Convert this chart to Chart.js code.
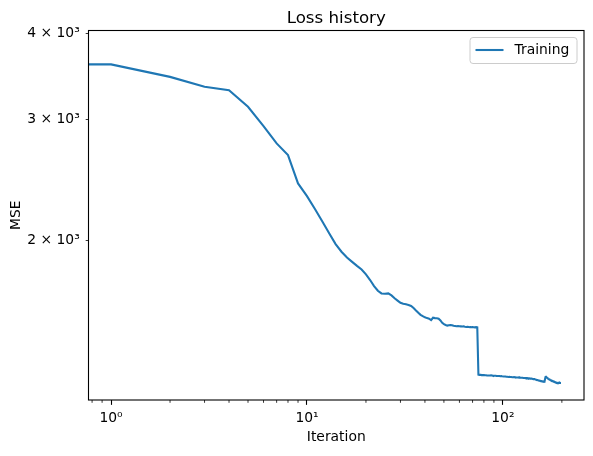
<!DOCTYPE html>
<html><head><meta charset="utf-8">
<script src="https://cdn.jsdelivr.net/npm/chart.js@4"></script>
<style>html,body{margin:0;padding:0;background:#fff}</style>
</head><body>
<canvas id="c" width="593" height="456"></canvas>
<script>
const chartTitle = 'Loss history';
const seriesLabel = 'Training';
const xAxisTitle = 'Iteration';
const yAxisTitle = 'MSE';

// Training MSE per iteration, iterations 0..74
const lossEarly = [
  3609, 3609, 3461, 3348, 3311, 3131, 2936, 2770, 2664, 2423,
  2322, 2222, 2131, 2050, 1978, 1928, 1891, 1864, 1839, 1817,
  1787, 1754, 1719, 1692, 1677, 1675, 1677, 1666, 1650, 1637,
  1625, 1620, 1617, 1613, 1608, 1597, 1584, 1572, 1561, 1554,
  1548, 1544, 1541, 1534, 1546, 1544, 1543, 1541, 1532, 1520,
  1513, 1509, 1506, 1508, 1509, 1508, 1505, 1504, 1503, 1504,
  1503, 1502, 1501, 1502, 1500, 1499, 1500, 1499, 1498, 1498,
  1499, 1498, 1497, 1498, 1497
];
// Training MSE per iteration, iterations 75..199
const lossLate = [
  1278, 1277, 1277, 1276, 1276, 1276, 1275, 1275, 1274, 1274,
  1274, 1274, 1275, 1274, 1273, 1273, 1273, 1273, 1272, 1272,
  1272, 1272, 1271, 1272, 1271, 1271, 1270, 1270, 1270, 1269,
  1269, 1269, 1268, 1269, 1268, 1268, 1268, 1267, 1267, 1268,
  1267, 1267, 1266, 1266, 1266, 1266, 1265, 1266, 1265, 1265,
  1265, 1265, 1264, 1264, 1264, 1264, 1263, 1263, 1263, 1262,
  1262, 1262, 1262, 1261, 1261, 1261, 1260, 1260, 1259, 1259,
  1259, 1258, 1257, 1256, 1256, 1255, 1254, 1253, 1253, 1252,
  1252, 1251, 1251, 1250, 1250, 1249, 1249, 1249, 1248, 1248,
  1268, 1269, 1267, 1265, 1263, 1262, 1261, 1259, 1258, 1256,
  1255, 1254, 1253, 1252, 1251, 1250, 1250, 1249, 1248, 1247,
  1246, 1245, 1245, 1244, 1244, 1244, 1243, 1243, 1243, 1243,
  1244, 1243, 1243, 1243, 1243
];
const loss = lossEarly.concat(lossLate);

const xMajorTicks = [1, 10, 100];
const xMajorLabels = ['10\u2070', '10\u00B9', '10\u00B2'];
const xMinorTicks = [0.8, 0.9, 2, 3, 4, 5, 6, 7, 8, 9, 20, 30, 40, 50, 60, 70, 80, 90, 200];
const yTicks = [2000, 3000, 4000];
const yTickLabels = ['2 \u00D7 10\u00B3', '3 \u00D7 10\u00B3', '4 \u00D7 10\u00B3'];

const xRange = [0.767, 259.4];
const yRange = [1174, 4042];

const FONT = 'DejaVu Sans';
const LINE_COLOR = '#1f77b4';

const extrasPlugin = {
  id: 'extras',
  afterDraw(chart) {
    const ctx = chart.ctx;
    const {left, right, top, bottom} = chart.chartArea;
    ctx.save();
    // axes frame
    ctx.strokeStyle = '#000';
    ctx.lineWidth = 1.1;
    ctx.strokeRect(left, top, right - left, bottom - top);
    // minor x ticks
    const xs = chart.scales.x;
    ctx.lineWidth = 0.8;
    xMinorTicks.forEach(v => {
      const px = xs.getPixelForValue(v);
      ctx.beginPath();
      ctx.moveTo(px, bottom);
      ctx.lineTo(px, bottom + 2.8);
      ctx.stroke();
    });
    // title
    ctx.fillStyle = '#000';
    ctx.font = '16.67px "' + FONT + '"';
    ctx.textAlign = 'center';
    ctx.textBaseline = 'alphabetic';
    ctx.fillText(chartTitle, (left + right) / 2, 23);
    // legend
    const ds = chart.data.datasets[0];
    const bx = 470, by = 37.5, bw = 107, bh = 26, r = 3;
    ctx.beginPath();
    ctx.moveTo(bx + r, by);
    ctx.arcTo(bx + bw, by, bx + bw, by + bh, r);
    ctx.arcTo(bx + bw, by + bh, bx, by + bh, r);
    ctx.arcTo(bx, by + bh, bx, by, r);
    ctx.arcTo(bx, by, bx + bw, by, r);
    ctx.closePath();
    ctx.fillStyle = 'rgba(255,255,255,0.8)';
    ctx.fill();
    ctx.strokeStyle = '#cccccc';
    ctx.lineWidth = 1;
    ctx.stroke();
    ctx.strokeStyle = ds.borderColor;
    ctx.lineWidth = 2.08;
    ctx.beginPath();
    ctx.moveTo(475.5, 50);
    ctx.lineTo(503.5, 50);
    ctx.stroke();
    ctx.fillStyle = '#000';
    ctx.font = '13.89px "' + FONT + '"';
    ctx.textAlign = 'left';
    ctx.textBaseline = 'middle';
    ctx.fillText(ds.label, 514.5, 50.5);
    ctx.restore();
  }
};

Chart.defaults.font.family = FONT;
Chart.defaults.color = '#000';

new Chart(document.getElementById('c'), {
  type: 'line',
  data: {
    datasets: [{
      label: seriesLabel,
      data: loss.map((v, i) => ({x: i, y: v})),
      borderColor: LINE_COLOR,
      backgroundColor: LINE_COLOR,
      borderWidth: 2.08,
      pointRadius: 0,
      tension: 0,
      fill: false
    }]
  },
  options: {
    responsive: false,
    animation: false,
    devicePixelRatio: 1,
    layout: {padding: {top: 30.5, right: 9, left: 0, bottom: 0}},
    plugins: {
      legend: {display: false},
      title: {display: false},
      tooltip: {enabled: false}
    },
    scales: {
      x: {
        type: 'logarithmic',
        position: 'bottom',
        min: xRange[0],
        max: xRange[1],
        afterFit(s) { s.height = 56; },
        afterBuildTicks(s) { s.ticks = xMajorTicks.map(v => ({value: v})); },
        ticks: {
          autoSkip: false,
          maxRotation: 0,
          padding: 5.5,
          font: {size: 13.89},
          callback: (v) => xMajorLabels[xMajorTicks.indexOf(v)] ?? ''
        },
        grid: {drawOnChartArea: false, drawTicks: true, tickLength: 4.86, tickColor: '#000', tickWidth: 1.1},
        border: {display: false},
        title: {display: true, text: xAxisTitle, font: {size: 13.89}, padding: {top: 0, bottom: 10}}
      },
      y: {
        type: 'logarithmic',
        position: 'left',
        min: yRange[0],
        max: yRange[1],
        afterFit(s) { s.width = 88.5; },
        afterBuildTicks(s) { s.ticks = yTicks.map(v => ({value: v})); },
        ticks: {
          autoSkip: false,
          padding: 6,
          font: {size: 13.89},
          callback: (v) => yTickLabels[yTicks.indexOf(v)] ?? ''
        },
        grid: {drawOnChartArea: false, drawTicks: true, tickLength: 2.8, tickColor: '#000', tickWidth: 0.8},
        border: {display: false},
        title: {display: true, text: yAxisTitle, font: {size: 13.89}, padding: {top: 8.5, bottom: 0}}
      }
    }
  },
  plugins: [extrasPlugin]
});
</script>
</body></html>
